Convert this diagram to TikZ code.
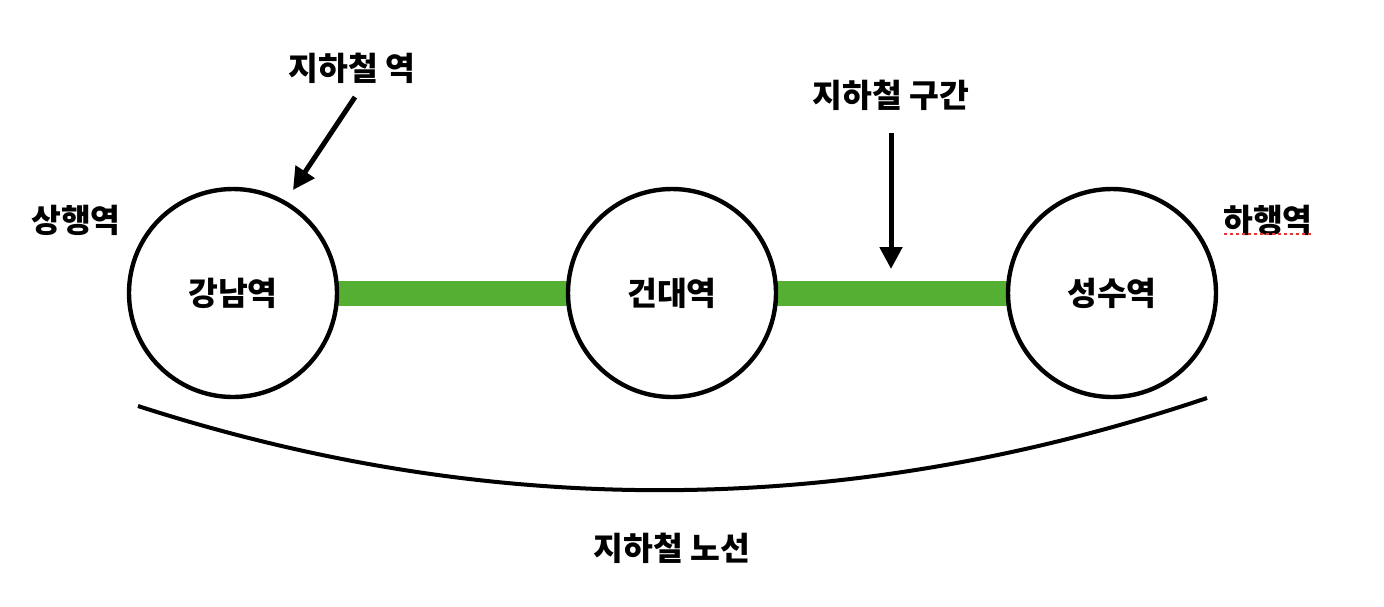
\documentclass[tikz,border=0pt]{standalone}
\usepackage{fontspec}
\newfontfamily\kr{Noto Sans CJK KR}
\usetikzlibrary{arrows.meta,backgrounds}
\definecolor{linegreen}{HTML}{55AF32}
\definecolor{spellred}{HTML}{E8342E}
\tikzset{
  station/.style={circle, draw=black, line width=2.2pt, fill=white, minimum size=104pt, inner sep=0pt, font=\kr\bfseries\fontsize{16.2}{19}\selectfont},
  lbl/.style={font=\kr\bfseries\fontsize{16.2}{19}\selectfont, inner sep=0pt},
  segment/.style={linegreen, line width=12.5pt},
  pointer/.style={line width=2.5pt, -{Triangle[length=11pt,width=11pt]}},
  route/.style={line width=2pt}
}
\begin{document}
\begin{tikzpicture}[x=0.5pt,y=-0.5pt]
\useasboundingbox (0,0) rectangle (1384,606);
\node[station] (gn) at (233,293) {강남역};
\node[station] (kd) at (672,293) {건대역};
\node[station] (ss) at (1112,293) {성수역};
\begin{scope}[on background layer]
\draw[segment] (gn.center) -- (kd.center);
\draw[segment] (kd.center) -- (ss.center);
\end{scope}
\node[lbl] (lstation) at (352,68) {지하철 역};
\node[lbl] (lsection) at (891,95) {지하철 구간};
\node[lbl] (lup) at (76,220) {상행역};
\node[lbl] (ldown) at (1268,220) {하행역};
\node[lbl] (lroute) at (672,548) {지하철 노선};
\coordinate (a1s) at (355,97);
\coordinate (a1e) at (293,190);
\coordinate (a2s) at (891,133);
\coordinate (a2e) at (891,269);
\draw[pointer] (a1s) -- (a1e);
\draw[pointer] (a2s) -- (a2e);
\coordinate (r0) at (138,406);
\coordinate (r1) at (1207,398);
\draw[route] (r0) .. controls (494,521) and (850,518) .. (r1);
\coordinate (u0) at (1224,234);
\coordinate (u1) at (1313,234);
\draw[spellred, line width=1pt, dash pattern=on 1.5pt off 1.5pt] (u0) -- (u1);
\end{tikzpicture}
\end{document}
